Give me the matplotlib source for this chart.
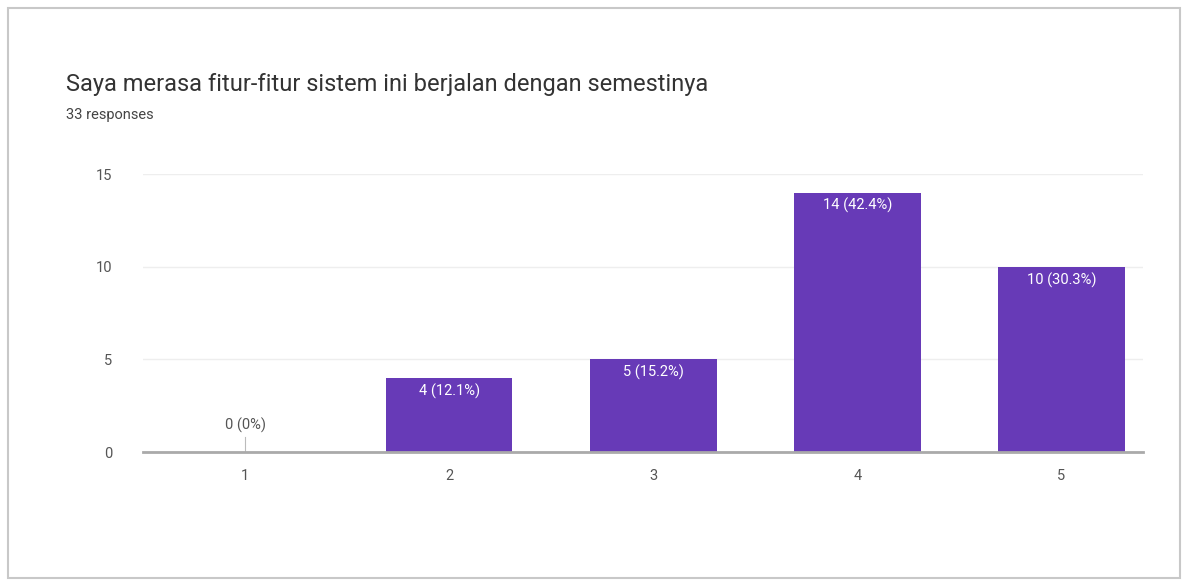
import matplotlib.pyplot as plt
from matplotlib.patches import Rectangle

plt.rcParams['font.family'] = ['Roboto', 'DejaVu Sans']

# Data
kategori = [1, 2, 3, 4, 5]
jumlah = [0, 4, 5, 14, 10]
label_bar = ["0 (0%)", "4 (12.1%)", "5 (15.2%)", "14 (42.4%)", "10 (30.3%)"]
judul = "Saya merasa fitur-fitur sistem ini berjalan dengan semestinya"
subjudul = "33 responses"

ungu = '#673ab7'

fig = plt.figure(figsize=(11.87, 5.84), dpi=100)
ax = fig.add_axes([0.1205, 0.226, 0.8425, 0.476])

# kartu latar
fig.patches.append(Rectangle((8 / 1187, 6 / 584), 1172 / 1187, 570 / 584,
                             transform=fig.transFigure, fill=False,
                             edgecolor='#c8c8c8', linewidth=1.5))

ax.bar(kategori, jumlah, width=0.62, color=ungu, zorder=3)

for x, y, lbl in zip(kategori, jumlah, label_bar):
    if y == 0:
        ax.plot([x, x], [0, 0.8], color='#bbbbbb', linewidth=0.8, zorder=4)
        ax.text(x, 1.0, lbl, ha='center', va='bottom', fontsize=10.5, color='#555555')
    else:
        ax.text(x, y - 0.3, lbl, ha='center', va='top', fontsize=10.5, color='white', zorder=5)

ax.set_xlim(0.5, 5.4)
ax.set_ylim(0, 15)
ax.set_yticks([0, 5, 10, 15])
ax.set_xticks(kategori)
ax.grid(axis='y', color='#eeeeee', linewidth=1, zorder=0)
for s in ['top', 'right', 'left']:
    ax.spines[s].set_visible(False)
ax.spines['bottom'].set_color('#aaaaaa')
ax.spines['bottom'].set_linewidth(2)
ax.spines['bottom'].set_zorder(4)
ax.tick_params(axis='both', length=0, labelsize=10.5, colors='#555555')
ax.tick_params(axis='y', pad=22)
ax.tick_params(axis='x', pad=12)

fig.text(66 / 1187, 1 - 85 / 584, judul, fontsize=17, color='#333333', va='center')
fig.text(66 / 1187, 1 - 115 / 584, subjudul, fontsize=10.5, color='#444444', va='center')

plt.savefig("out.png", dpi=100)
